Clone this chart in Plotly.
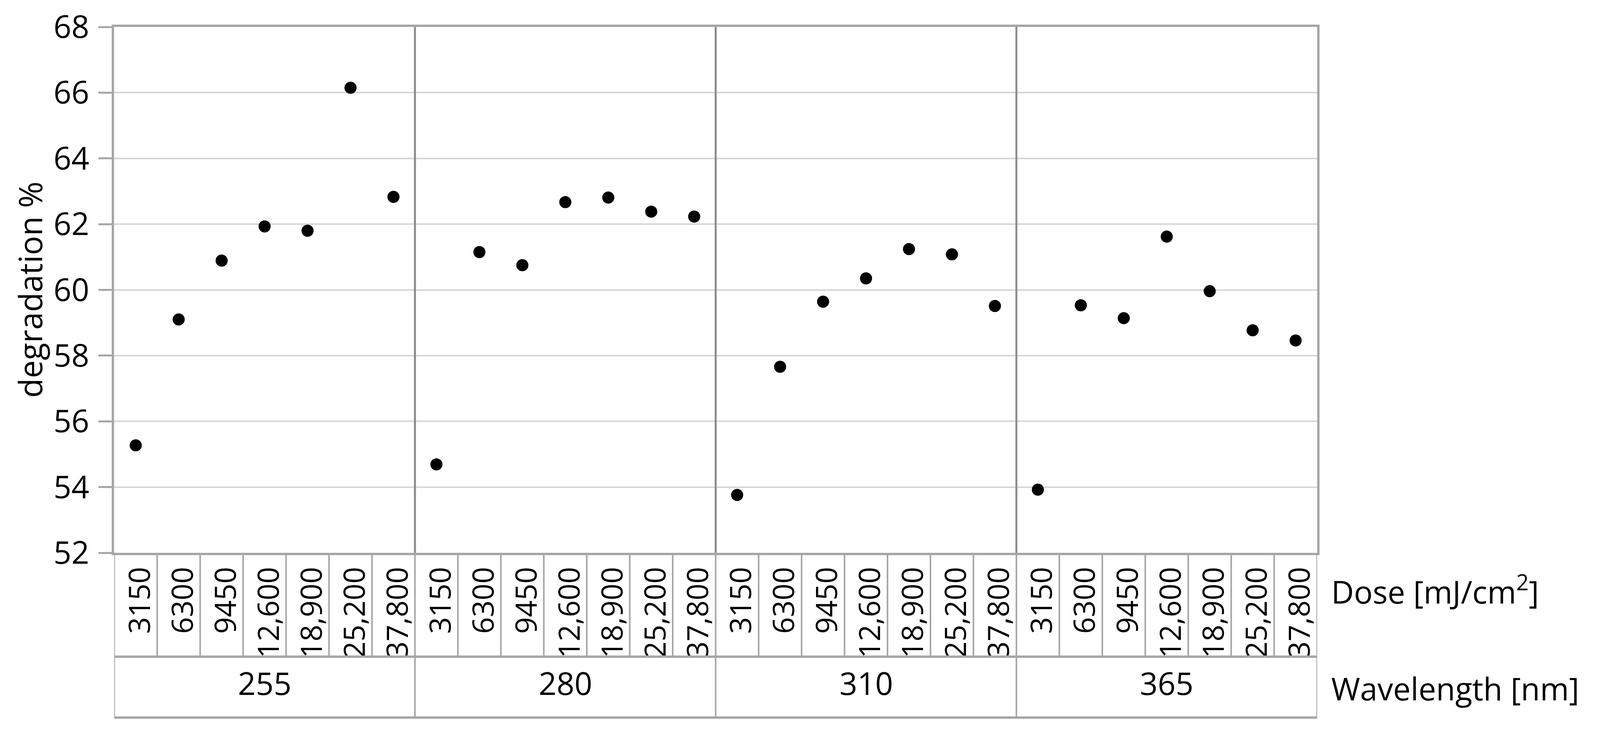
import plotly.graph_objects as go

# données
wavelengths = ["255", "280", "310", "365"]
doses = ["3150", "6300", "9450", "12,600", "18,900", "25,200", "37,800"]
deg_255 = [55.27, 59.10, 60.89, 61.93, 61.80, 66.15, 62.83]
deg_280 = [54.69, 61.15, 60.75, 62.67, 62.81, 62.38, 62.23]
deg_310 = [53.76, 57.66, 59.64, 60.35, 61.24, 61.08, 59.51]
deg_365 = [53.92, 59.53, 59.14, 61.62, 59.96, 58.77, 58.46]
y_ticks = [52, 54, 56, 58, 60, 62, 64, 66, 68]

W, H = 4174, 1875
FONT = "Open Sans, Noto Sans, DejaVu Sans"
BORDER = "#a6a6a6"
DIVIDER = "#8a8a8a"
GRID = "#d6d6d6"

# positions en pixels (cadre du graphique et lignes du tableau)
left_px, right_px = 298, 3436
top_px, bottom_px = 69, 1416
dose_bottom_px = 1682
wl_bottom_px = 1838


def py(px):
    return 1 - px / H


series = [deg_255, deg_280, deg_310, deg_365]
n = len(doses)
xs, ys = [], []
for k, vals in enumerate(series):
    for i, v in enumerate(vals):
        xs.append(k * n + i)
        ys.append(v)

fig = go.Figure()
fig.add_trace(go.Scatter(
    x=xs, y=ys, mode="markers",
    marker=dict(color="black", size=31, symbol="circle"),
    showlegend=False,
))

n_cat = n * len(wavelengths)
shapes = []
# séparateurs des panneaux
for k in range(1, len(wavelengths)):
    xb = k * n - 0.5
    shapes.append(dict(type="line", xref="x", yref="paper", x0=xb, x1=xb,
                       y0=py(bottom_px), y1=py(top_px),
                       line=dict(color=DIVIDER, width=5), layer="above"))
# cellules des doses
for j in range(n_cat + 1):
    xb = j - 0.5
    shapes.append(dict(type="line", xref="x", yref="paper", x0=xb, x1=xb,
                       y0=py(dose_bottom_px), y1=py(bottom_px),
                       line=dict(color=BORDER, width=4)))
shapes.append(dict(type="line", xref="paper", yref="paper",
                   x0=left_px / W, x1=right_px / W,
                   y0=py(dose_bottom_px), y1=py(dose_bottom_px),
                   line=dict(color=BORDER, width=6)))
# cellules des longueurs d'onde
for k in range(len(wavelengths) + 1):
    xb = k * n - 0.5
    shapes.append(dict(type="line", xref="x", yref="paper", x0=xb, x1=xb,
                       y0=py(wl_bottom_px), y1=py(dose_bottom_px),
                       line=dict(color=BORDER, width=4)))
shapes.append(dict(type="line", xref="paper", yref="paper",
                   x0=left_px / W, x1=right_px / W,
                   y0=py(wl_bottom_px), y1=py(wl_bottom_px),
                   line=dict(color=BORDER, width=6)))

annotations = []
for k, wl in enumerate(wavelengths):
    annotations.append(dict(
        x=k * n + (n - 1) / 2, xref="x", y=py(1748), yref="paper",
        text=wl, showarrow=False, xanchor="center", yanchor="middle",
        font=dict(size=80, color="black", family=FONT)))
annotations.append(dict(
    x=3471 / W, xref="paper", y=py(1510), yref="paper",
    text="Dose [mJ/cm<sup>2</sup>]", showarrow=False,
    xanchor="left", yanchor="middle",
    font=dict(size=80, color="black", family=FONT)))
annotations.append(dict(
    x=3471 / W, xref="paper", y=py(1762), yref="paper",
    text="Wavelength [nm]", showarrow=False,
    xanchor="left", yanchor="middle",
    font=dict(size=80, color="black", family=FONT)))
annotations.append(dict(
    x=78 / W, xref="paper", y=0.5, yref="y domain",
    text="degradation %", showarrow=False, textangle=-90,
    xanchor="center", yanchor="middle",
    font=dict(size=82, color="black", family=FONT)))

fig.update_layout(
    autosize=True,
    margin=dict(l=0, r=0, t=0, b=0, autoexpand=False),
    paper_bgcolor="white",
    plot_bgcolor="white",
    shapes=shapes,
    annotations=annotations,
    font=dict(family=FONT, color="black", size=80),
)

fig.update_xaxes(
    domain=[left_px / W, right_px / W],
    range=[-0.5, n_cat - 0.5],
    tickmode="array",
    tickvals=list(range(n_cat)),
    ticktext=doses * len(wavelengths),
    tickangle=-90,
    ticks="",
    ticklabelshift=12,
    showgrid=False,
    zeroline=False,
    automargin=False,
    showline=True, mirror=True, linecolor=BORDER, linewidth=6,
    tickfont=dict(size=75, family=FONT, color="black"),
)

fig.update_yaxes(
    domain=[py(bottom_px), py(top_px)],
    range=[52, 68],
    tickmode="array",
    tickvals=y_ticks,
    ticktext=[str(t) for t in y_ticks],
    ticks="outside", ticklen=34, tickwidth=5, tickcolor=BORDER,
    ticklabelstandoff=8,
    showgrid=True, gridcolor=GRID, gridwidth=4,
    zeroline=False,
    automargin=False,
    showline=True, mirror=True, linecolor=BORDER, linewidth=6,
    tickfont=dict(size=80, family=FONT, color="black"),
)

# marge du body à zéro pour que la figure remplisse la fenêtre
post = ("document.body.style.margin='0';"
        "document.documentElement.style.overflow='hidden';"
        "Plotly.Plots.resize(document.getElementById('{plot_id}'));")

fig.write_html("out.html", post_script=post,
               config={"displayModeBar": False})
